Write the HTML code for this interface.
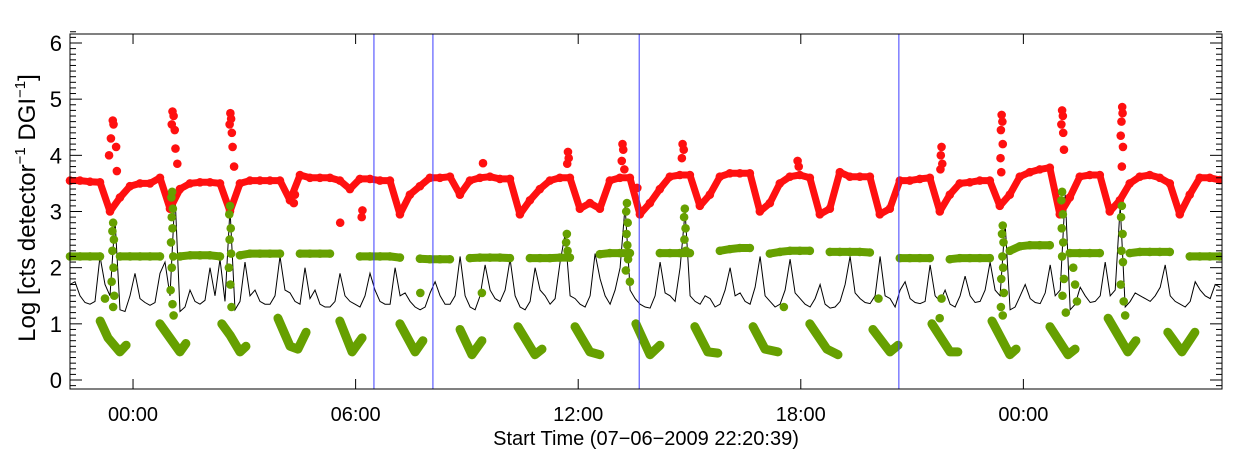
<!DOCTYPE html>
<html><head><meta charset="utf-8"><style>
html,body{margin:0;padding:0;background:#fff;}
svg{display:block;font-family:"Liberation Sans",Arial,sans-serif;}
</style></head><body>
<svg id="chart" width="1240" height="460" viewBox="0 0 1240 460" xmlns="http://www.w3.org/2000/svg">
<rect x="0" y="0" width="1240" height="460" fill="#fff"/>
<g id="marks"></g>
<g id="axes"></g>
<text x="646" y="445" font-size="20" text-anchor="middle">Start Time (07−06−2009 22:20:39)</text>
<text transform="translate(35,208) rotate(-90)" font-size="24" text-anchor="middle">Log [cts detector<tspan font-size="15" dy="-10">−1</tspan><tspan dy="10"> DGI</tspan><tspan font-size="15" dy="-10">−1</tspan><tspan dy="10">]</tspan></text>
</svg>
<script>
// ---- data (time in hours since start, values in log counts) ----
const xTickHours = [1.656, 7.656, 13.656, 19.656, 25.656];
const xTickLabels = ["00:00", "06:00", "12:00", "18:00", "00:00"];
const yTickValues = [0, 1, 2, 3, 4, 5, 6];
const yTickLabels = ["0", "1", "2", "3", "4", "5", "6"];
const markerHours = [8.15, 9.74, 15.30, 22.30];

const redStart = -0.043, redStep = 0.2695;
const redTrack = [3.55,3.55,3.53,3.52,3.0,3.25,3.45,3.5,3.5,3.6,3.05,3.4,3.5,3.52,3.52,3.5,3.0,3.5,3.55,3.55,3.55,3.55,3.2,3.65,3.6,3.6,3.6,3.55,3.4,3.58,3.58,3.55,3.55,2.95,3.3,3.45,3.6,3.6,3.62,3.3,3.55,3.6,3.62,3.58,3.58,2.95,3.2,3.4,3.55,3.6,3.6,3.05,3.15,3.05,3.55,3.6,3.6,2.95,3.15,3.4,3.62,3.65,3.65,3.1,3.3,3.62,3.68,3.68,3.68,3.0,3.15,3.5,3.62,3.65,3.6,2.95,3.05,3.7,3.62,3.62,3.62,2.95,3.05,3.55,3.55,3.58,3.6,3.0,3.3,3.5,3.52,3.55,3.55,3.1,3.3,3.62,3.7,3.75,3.78,2.95,3.25,3.62,3.65,3.65,3.0,3.2,3.5,3.62,3.65,3.6,3.5,2.95,3.3,3.6,3.6,3.56];
const redExtra = [[1.11,4.62],[1.13,4.55],[1.06,4.3],[1.01,4.0],[1.20,4.15],[1.22,3.72],
 [2.72,4.78],[2.75,4.7],[2.7,4.55],[2.78,4.45],[2.8,4.12],[2.85,3.85],
 [4.28,4.75],[4.3,4.65],[4.26,4.55],[4.32,4.4],[4.34,4.15],[4.38,3.8],
 [5.99,3.15],[6.02,3.3],[7.24,2.8],[7.82,2.9],[7.84,3.02],[11.09,3.86],
 [13.38,4.06],[13.4,3.95],[13.36,3.85],[14.85,4.2],[14.87,4.1],[14.83,3.9],[14.9,3.75],[15.25,3.42],
 [16.47,4.2],[16.5,4.1],[16.45,3.95],[19.57,3.9],[19.6,3.8],
 [23.45,4.15],[23.43,4.0],[23.47,3.85],[23.42,3.75],
 [25.07,4.72],[25.09,4.6],[25.05,4.45],[25.1,4.2],[25.04,3.95],[25.06,3.7],
 [26.7,4.8],[26.72,4.7],[26.68,4.55],[26.73,4.4],[26.75,4.1],
 [28.32,4.86],[28.33,4.75],[28.3,4.6],[28.28,4.35],[28.34,4.15],[28.31,3.8]];

const greenStart = -0.043, greenStep = 0.2695;
const greenBand = [2.2,2.2,2.2,2.2,null,2.2,2.2,2.2,2.2,2.2,null,2.2,2.22,2.22,2.22,2.2,null,2.22,2.25,2.25,2.25,2.25,null,2.25,2.25,2.25,2.25,null,null,2.2,2.2,2.2,2.2,2.18,null,2.16,2.15,2.15,2.15,null,2.17,2.18,2.18,2.18,2.17,null,2.17,2.17,2.17,2.18,2.18,null,null,2.24,2.26,2.26,2.26,null,null,2.26,2.26,2.26,2.26,null,null,2.3,2.33,2.35,2.35,null,2.25,2.28,2.3,2.3,2.3,null,2.28,2.28,2.28,2.28,2.27,null,null,2.17,2.17,2.17,2.17,null,2.15,2.17,2.17,2.17,2.17,null,2.3,2.38,2.4,2.4,2.4,null,2.26,2.26,2.26,2.26,null,null,2.26,2.28,2.28,2.28,2.28,null,2.2,2.2,2.2,2.2];
const greenSpikes = [[1.12,2.8],[1.1,2.65],[1.14,2.5],[1.1,2.3],[1.13,2.0],[1.08,1.75],[1.15,1.5],[1.12,1.3],
 [2.71,3.35],[2.69,3.25],[2.73,3.05],[2.7,2.9],[2.72,2.7],[2.68,2.45],[2.74,2.2],[2.7,2.0],[2.67,1.6],[2.72,1.35],[2.75,1.15],
 [4.27,3.1],[4.25,2.95],[4.29,2.7],[4.26,2.5],[4.3,2.25],[4.24,2.0],[4.28,1.7],[4.31,1.3],
 [13.35,2.6],[13.33,2.45],[13.37,2.3],[11.06,1.55],
 [14.97,3.15],[14.95,3.0],[14.99,2.8],[14.96,2.6],[14.98,2.4],[15.0,2.15],[14.94,1.95],[15.05,1.75],
 [16.53,3.05],[16.51,2.9],[16.55,2.7],[16.52,2.5],[16.56,2.3],
 [25.1,2.75],[25.08,2.6],[25.12,2.45],[25.09,2.2],[25.11,2.0],[25.06,1.8],[25.13,1.55],[25.05,1.3],[25.1,1.15],
 [26.7,3.35],[26.68,3.2],[26.72,2.95],[26.69,2.7],[26.73,2.45],[26.7,2.2],[26.75,1.8],[26.71,1.5],[26.8,1.2],[27.0,2.0],[27.05,1.7],[27.1,1.4],
 [28.31,3.1],[28.29,2.9],[28.33,2.6],[28.3,2.3],[28.34,2.1],[28.28,1.7],[28.36,1.4],[28.4,1.15],
 [23.45,1.45],[23.4,1.1],[21.75,1.45],[19.2,1.3],[9.4,1.55],[0.9,1.45]];
const greenLow = [
 [[0.77,1.05],[0.98,0.75],[1.30,0.5],[1.47,0.62]],
 [[2.38,1.0],[2.65,0.75],[2.92,0.5],[3.08,0.65]],
 [[4.05,1.0],[4.27,0.8],[4.54,0.5],[4.70,0.6]],
 [[5.56,1.1],[5.89,0.6],[6.10,0.55],[6.32,0.85]],
 [[7.23,1.05],[7.56,0.5],[7.83,0.75]],
 [[8.85,1.0],[9.26,0.5],[9.47,0.7]],
 [[10.47,0.9],[10.79,0.45],[11.06,0.7]],
 [[12.03,0.95],[12.49,0.45],[12.68,0.55]],
 [[13.57,0.95],[13.97,0.5],[14.24,0.45]],
 [[15.21,1.0],[15.59,0.45],[15.86,0.62]],
 [[16.80,0.95],[17.15,0.5],[17.42,0.48]],
 [[18.37,0.95],[18.69,0.55],[19.04,0.5]],
 [[19.90,1.0],[20.36,0.55],[20.66,0.45]],
 [[21.60,0.9],[22.06,0.5],[22.28,0.62]],
 [[23.19,1.0],[23.68,0.5],[23.89,0.5]],
 [[24.81,1.05],[25.29,0.45],[25.46,0.55]],
 [[26.37,0.95],[26.86,0.45],[27.05,0.55]],
 [[27.94,1.1],[28.47,0.5],[28.69,0.7]],
 [[29.55,0.85],[29.93,0.5],[30.28,0.85]]];

const blackStart = -0.043, blackStep = 0.1348;
const blackLine = [1.7,1.75,1.5,1.38,1.35,1.4,2.2,1.7,1.5,2.85,1.25,1.22,1.5,1.9,1.45,1.38,1.33,1.38,1.9,2.1,1.5,3.3,1.22,1.3,1.6,1.4,1.35,1.42,2.0,1.5,2.15,1.4,3.05,1.25,1.4,2.1,1.5,1.6,1.4,1.35,1.35,1.5,2.2,1.6,1.55,1.4,1.35,2.0,1.45,1.6,1.35,1.3,1.3,1.4,1.9,1.5,1.4,1.35,1.3,1.5,1.9,1.6,1.4,1.35,1.35,2.0,1.5,1.55,1.4,1.3,1.25,1.3,1.55,1.75,1.5,1.35,1.35,1.5,2.2,1.5,1.3,1.25,1.5,2.05,1.6,1.45,1.4,1.6,2.15,1.5,1.3,1.25,1.4,2.0,1.6,1.5,1.35,1.45,2.1,2.6,1.5,1.45,1.35,1.3,1.5,2.25,1.8,1.5,1.35,1.6,2.0,3.1,1.6,1.45,1.35,1.3,1.28,1.5,2.1,1.55,1.5,1.4,2.0,3.0,1.5,1.4,1.35,1.5,1.45,1.3,1.35,1.6,2.0,1.5,1.55,1.4,1.35,1.65,2.2,1.5,1.4,1.3,1.35,1.6,2.15,1.55,1.45,1.35,1.3,1.45,1.7,1.35,1.28,1.3,1.4,1.7,2.2,1.55,1.45,1.38,1.36,1.5,2.2,1.5,1.45,1.3,1.6,1.75,1.45,1.38,1.36,1.4,2.05,1.5,1.4,1.6,1.35,1.3,1.5,1.85,1.5,1.38,1.4,1.6,2.1,1.6,1.5,2.8,1.25,1.3,1.5,1.7,1.45,1.38,1.36,1.55,2.05,1.5,1.6,3.3,1.25,1.35,1.65,1.5,1.38,1.4,1.5,2.1,1.5,1.6,3.1,1.3,1.4,1.55,1.5,1.45,1.4,1.5,1.65,2.05,1.5,1.4,1.35,1.3,1.4,1.75,1.6,1.5,1.45,1.7,1.65];

// ---- layout ----
const L = 70, R = 1222, T = 34, B = 389;
const xMin = -0.043, xMax = 31.01, yMin = -0.16, yMax = 6.16;
function xs(t){ return L + (t - xMin) / (xMax - xMin) * (R - L); }
function ys(v){ return B - (v - yMin) / (yMax - yMin) * (B - T); }

const NS = "http://www.w3.org/2000/svg";
const marks = document.getElementById('marks');
const axes = document.getElementById('axes');
function mk(tag, attrs, parent){
  const e = document.createElementNS(NS, tag);
  for (const k in attrs) e.setAttribute(k, attrs[k]);
  parent.appendChild(e);
  return e;
}
const RED = "#ff1010", GREEN = "#66a000";

function drawTrack(vals, start, step, color, name, sw){
  const g = mk('g', {}, marks);
  
  
  let seg = [];
  const flush = () => {
    if (seg.length > 1) {
      const pl = mk('polyline', {points: seg.map(p => p.join(',')).join(' '), fill: 'none', stroke: color, 'stroke-width': sw, 'stroke-linecap': 'round', 'stroke-linejoin': 'round'}, g);
      
      
    }
    seg = [];
  };
  vals.forEach((v, i) => {
    if (v === null) { flush(); return; }
    const px = xs(start + i * step), py = ys(v);
    seg.push([px.toFixed(1), py.toFixed(1)]);
    const c = mk('circle', {cx: px, cy: py, r: 4.3, fill: color}, g);
    
    
  });
  flush();
}
function drawPoints(pts, color, name){
  const g = mk('g', {}, marks);
  
  
  pts.forEach(p => {
    const c = mk('circle', {cx: xs(p[0]), cy: ys(p[1]), r: 4.3, fill: color}, g);
    
    
  });
}

const bl = mk('polyline', {points: blackLine.map((v, i) => xs(blackStart + i * blackStep).toFixed(1) + ',' + ys(v).toFixed(1)).join(' '), fill: 'none', stroke: '#000', 'stroke-width': 1}, marks);



drawTrack(redTrack, redStart, redStep, RED, 'red-series', 7);
drawPoints(redExtra, RED, 'red-spikes');
drawTrack(greenBand, greenStart, greenStep, GREEN, 'green-upper-band', 8);
drawPoints(greenSpikes, GREEN, 'green-spikes');
greenLow.forEach(cl => {
  const pl = mk('polyline', {points: cl.map(p => xs(p[0]).toFixed(1) + ',' + ys(p[1]).toFixed(1)).join(' '), fill: 'none', stroke: GREEN, 'stroke-width': 9, 'stroke-linecap': 'round', 'stroke-linejoin': 'round'}, marks);
  
  
});

markerHours.forEach(h => {
  const ln = mk('line', {x1: xs(h), x2: xs(h), y1: T, y2: B, stroke: '#3c3cff', 'stroke-width': 1}, marks);
  
  
});

mk('rect', {x: R + 0.5, y: 0, width: 1240 - R, height: 460, fill: '#fff'}, axes);

const fr = mk('rect', {x: L, y: T, width: R - L, height: B - T, fill: 'none', stroke: '#000', 'stroke-width': 1}, axes);



for (let k = 0; k <= 62; k++) {
  const v = k / 10;
  const major = k % 10 === 0;
  const len = major ? 12 : 6;
  const y = ys(v);
  mk('line', {x1: L, x2: L + len, y1: y, y2: y, stroke: '#000', 'stroke-width': 1}, axes);
  mk('line', {x1: R - len, x2: R, y1: y, y2: y, stroke: '#000', 'stroke-width': 1}, axes);
}
mk('line', {x1: L, x2: L + 6, y1: ys(-0.1), y2: ys(-0.1), stroke: '#000'}, axes);
mk('line', {x1: R - 6, x2: R, y1: ys(-0.1), y2: ys(-0.1), stroke: '#000'}, axes);
yTickValues.forEach((v, i) => {
  const t = mk('text', {x: 62, y: ys(v) + 8, 'font-size': 22, 'text-anchor': 'end'}, axes);
  t.textContent = yTickLabels[i];
  
  
});
xTickHours.forEach((h, i) => {
  const x = xs(h);
  mk('line', {x1: x, x2: x, y1: B, y2: B - 10, stroke: '#000'}, axes);
  mk('line', {x1: x, x2: x, y1: T, y2: T + 10, stroke: '#000'}, axes);
  const t = mk('text', {x: x, y: 421, 'font-size': 20, 'text-anchor': 'middle'}, axes);
  t.textContent = xTickLabels[i];
  
  
});
</script>
</body></html>
